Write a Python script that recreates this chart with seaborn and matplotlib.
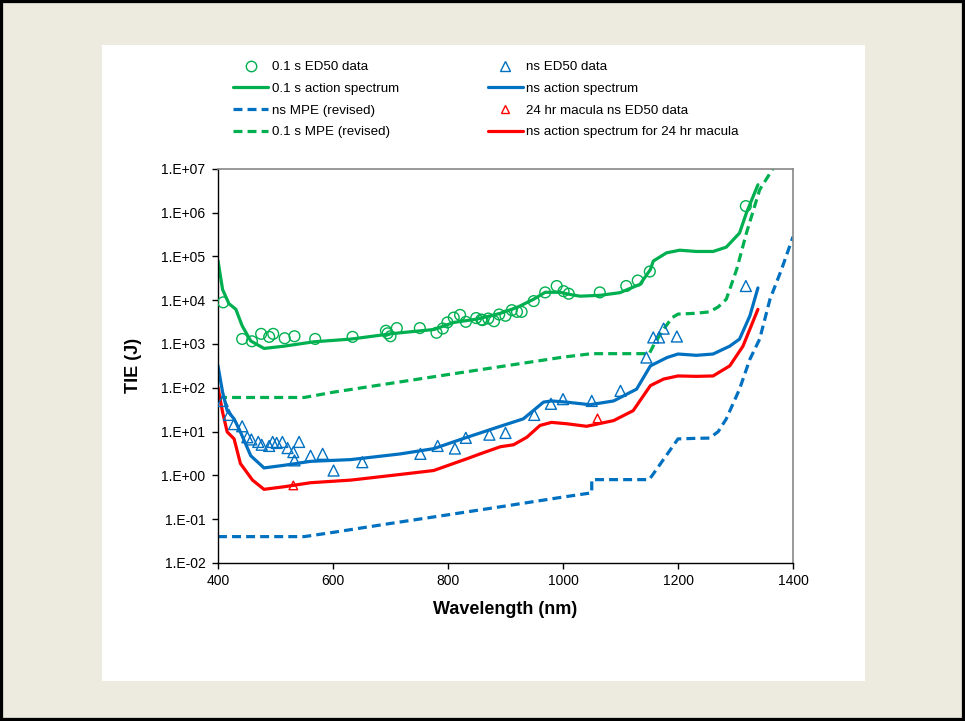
import matplotlib
matplotlib.use("Agg")
import matplotlib.pyplot as plt
from matplotlib.lines import Line2D
from matplotlib.patches import Rectangle
from matplotlib.ticker import FixedLocator, FuncFormatter, NullLocator
import numpy as np
import pandas as pd
import seaborn as sns

# ---------------- data ----------------
ed50_01s_wl = [409, 442, 459, 475, 489, 496, 516, 533, 569, 634, 692, 695, 700, 711, 751, 780, 791, 799,
               810, 821, 831, 849, 858, 860, 870, 880, 889, 900, 911, 920, 928, 949, 969, 989, 1001, 1010,
               1064, 1110, 1130, 1151, 1318]
ed50_01s_val = [8.9e3, 1.3e3, 1.15e3, 1.7e3, 1.45e3, 1.7e3, 1.35e3, 1.5e3, 1.3e3, 1.45e3, 2.0e3, 1.75e3, 1.5e3,
                2.3e3, 2.3e3, 1.8e3, 2.25e3, 3.1e3, 4.0e3, 4.6e3, 3.2e3, 3.9e3, 3.6e3, 3.5e3, 3.8e3, 3.3e3,
                4.7e3, 4.4e3, 5.9e3, 5.4e3, 5.4e3, 9.5e3, 1.5e4, 2.1e4, 1.6e4, 1.4e4, 1.5e4, 2.1e4, 2.8e4,
                4.5e4, 1.4e6]

as_01s_wl = [400, 408, 419, 431, 442, 457, 480, 515, 567, 631, 706, 776, 810, 851, 891, 920, 949, 969, 995,
             1012, 1030, 1065, 1099, 1134, 1152, 1157, 1180, 1203, 1232, 1261, 1284, 1307, 1319, 1339]
as_01s_val = [7.9e4, 1.74e4, 8.3e3, 6.2e3, 2.6e3, 1.17e3, 7.9e2, 8.9e2, 1.12e3, 1.29e3, 1.74e3, 2.14e3, 3.1e3,
              3.7e3, 5.0e3, 6.8e3, 1.05e4, 1.51e4, 1.51e4, 1.35e4, 1.23e4, 1.29e4, 1.48e4, 2.3e4, 5.0e4, 7.8e4,
              1.2e5, 1.38e5, 1.29e5, 1.29e5, 1.62e5, 3.4e5, 9.8e5, 4.3e6]

mpe_01s_wl = [400, 450, 500, 550, 600, 700, 800, 900, 1000, 1050, 1100, 1150, 1157, 1174, 1190, 1200, 1230,
              1255, 1270, 1284, 1302, 1319, 1342, 1365, 1380]
mpe_01s_val = [60, 60, 60, 60, 79, 126, 200, 316, 500, 600, 600, 600, 900, 2100, 4000, 4800, 5000, 5400,
               7000, 1.05e4, 5.0e4, 3.4e5, 3.3e6, 1.0e7, 2.5e7]

ed50_ns_wl = [408, 419, 428, 442, 451, 458, 470, 476, 489, 495, 502, 512, 521, 531, 533, 541, 561, 582, 601,
              651, 752, 782, 812, 831, 872, 900, 950, 979, 1000, 1050, 1100, 1145, 1157, 1167, 1175, 1198, 1318]
ed50_ns_val = [50, 24, 14.8, 13.2, 7.4, 6.6, 5.8, 5.0, 4.7, 5.8, 5.5, 5.8, 4.2, 3.4, 2.2, 5.8, 2.8, 3.1, 1.29,
               2.0, 3.1, 4.7, 4.1, 7.2, 8.5, 9.3, 24, 43, 55, 50, 85, 490, 1410, 1410, 2240, 1480, 2.1e4]

as_ns_wl = [400, 408, 416, 428, 439, 457, 480, 515, 561, 631, 717, 775, 833, 856, 891, 931, 952, 966, 980, 1006,
            1047, 1088, 1128, 1152, 1181, 1200, 1232, 1261, 1290, 1307, 1325, 1339]
as_ns_val = [316, 79, 30, 19.5, 9.8, 2.8, 1.48, 1.70, 2.09, 2.29, 3.09, 4.07, 7.4, 9.3, 13.2, 19.5, 33, 47, 50,
             47, 41, 50, 93, 316, 490, 589, 550, 589, 891, 1290, 4370, 1.9e4]

mpe_ns_wl = [400, 450, 500, 550, 600, 700, 800, 900, 1000, 1050, 1050, 1100, 1150, 1200, 1230, 1255, 1270,
             1284, 1307, 1325, 1342, 1360, 1380, 1400]
mpe_ns_val = [0.04, 0.04, 0.04, 0.04, 0.05, 0.08, 0.126, 0.2, 0.32, 0.40, 0.80, 0.80, 0.80, 6.8, 7.0, 7.1,
              10, 19.5, 93, 447, 1290, 1.05e4, 5.0e4, 2.8e5]

ed50_24h_wl = [531, 1060]
ed50_24h_val = [0.59, 20]

as_24h_wl = [400, 408, 416, 428, 439, 460, 480, 515, 561, 631, 717, 775, 833, 856, 891, 914, 937, 960, 980,
             1006, 1041, 1088, 1122, 1152, 1175, 1200, 1232, 1261, 1290, 1313, 1339]
as_24h_val = [102, 27.5, 9.8, 6.8, 1.86, 0.78, 0.48, 0.55, 0.68, 0.78, 1.05, 1.29, 2.4, 3.1, 4.5, 5.0, 7.4,
              13.8, 16.2, 15.1, 13.2, 17.8, 30, 112, 158, 186, 182, 186, 316, 891, 6170]

x_ticks = [400, 600, 800, 1000, 1200, 1400]
y_exps = [-2, -1, 0, 1, 2, 3, 4, 5, 6, 7]

GREEN = "#00B050"
BLUE = "#0070C0"
RED = "#FF0000"
BG = "#EDEADF"

# ---------------- style ----------------
sns.set_style("ticks")
plt.rcParams["font.family"] = ["Liberation Sans", "DejaVu Sans"]
plt.rcParams["text.color"] = "black"
plt.rcParams["axes.labelcolor"] = "black"
plt.rcParams["xtick.color"] = "black"
plt.rcParams["ytick.color"] = "black"

W, H = 965, 721
fig = plt.figure(figsize=(W / 100, H / 100), dpi=100, facecolor=BG)
fig.patches.append(Rectangle((102 / W, 1 - 681 / H), (865 - 102) / W, (681 - 45) / H,
                             transform=fig.transFigure, fc="white", ec="none", zorder=-5))
fig.patches.append(Rectangle((0, 0), 1, 1, transform=fig.transFigure, fill=False,
                             ec="black", lw=4.5, zorder=10))

ax = fig.add_axes([218 / W, 1 - 563 / H, (793 - 218) / W, (563 - 168.7) / H])
ax.set_facecolor("white")

def line(wl, val, color, dashed=False):
    df = pd.DataFrame({"wl": wl, "val": val})
    kw = dict(linestyle=(0, (2.8, 1.6))) if dashed else {}
    sns.lineplot(data=df, x="wl", y="val", sort=False, estimator=None, color=color,
                 lw=2.3, ax=ax, legend=False, **kw)

def points(wl, val, color, marker, s):
    df = pd.DataFrame({"wl": wl, "val": val})
    sns.scatterplot(data=df, x="wl", y="val", marker=marker, s=s, color=color,
                    facecolor="none", edgecolor=color, linewidth=1.0, ax=ax, legend=False, zorder=5)

line(mpe_ns_wl, mpe_ns_val, BLUE, dashed=True)
line(mpe_01s_wl, mpe_01s_val, GREEN, dashed=True)
line(as_24h_wl, as_24h_val, RED)
line(as_ns_wl, as_ns_val, BLUE)
line(as_01s_wl, as_01s_val, GREEN)
points(ed50_01s_wl, ed50_01s_val, GREEN, "o", 60)
points(ed50_ns_wl, ed50_ns_val, BLUE, "^", 62)
points(ed50_24h_wl, ed50_24h_val, RED, "^", 38)

ax.set_yscale("log")
ax.set_xlim(400, 1400)
ax.set_ylim(1e-2, 1e7)
ax.xaxis.set_major_locator(FixedLocator(x_ticks))
ax.yaxis.set_major_locator(FixedLocator([10.0 ** e for e in y_exps]))
ax.yaxis.set_minor_locator(NullLocator())
ax.yaxis.set_major_formatter(FuncFormatter(lambda v, p: "1.E%+03d" % int(round(np.log10(v)))))
ax.tick_params(axis="both", which="major", direction="out", length=4, width=1,
               labelsize=10, color="black", labelcolor="black", pad=4)
ax.tick_params(axis="y", pad=5)

for side in ["top", "right"]:
    ax.spines[side].set_color("#888888")
    ax.spines[side].set_linewidth(1.2)
for side in ["left", "bottom"]:
    ax.spines[side].set_color("black")
    ax.spines[side].set_linewidth(1.0)

ax.set_xlabel("Wavelength (nm)", fontsize=13, fontweight="bold", labelpad=9, color="black")
ax.set_ylabel("TIE (J)", fontsize=13, fontweight="bold", labelpad=14, color="black")

# ---------------- legends ----------------
def h_line(c, dashed=False):
    return Line2D([], [], color=c, lw=2.3, linestyle=(0, (2.8, 1.6)) if dashed else "-")

def h_mark(c, m, ms):
    return Line2D([], [], color=c, lw=0, marker=m, markersize=ms, markerfacecolor="none",
                  markeredgecolor=c, markeredgewidth=1.0)

col1 = [(h_mark(GREEN, "o", 7.5), "0.1 s ED50 data"),
        (h_line(GREEN), "0.1 s action spectrum"),
        (h_line(BLUE, True), "ns MPE (revised)"),
        (h_line(GREEN, True), "0.1 s MPE (revised)")]
col2 = [(h_mark(BLUE, "^", 7.5), "ns ED50 data"),
        (h_line(BLUE), "ns action spectrum"),
        (h_mark(RED, "^", 6), "24 hr macula ns ED50 data"),
        (h_line(RED), "ns action spectrum for 24 hr macula")]

for items, x0 in [(col1, 233), (col2, 487.5)]:
    lg = fig.legend([h for h, _ in items], [t for _, t in items], loc="upper left",
                    bbox_to_anchor=(x0 / W, 1 - 61 / H), frameon=False, fontsize=9.6,
                    handlelength=2.65, handletextpad=0.25, labelspacing=0.7,
                    borderpad=0, borderaxespad=0)
    for t in lg.get_texts():
        t.set_color("black")

fig.savefig("out.png", dpi=100, facecolor=BG)
